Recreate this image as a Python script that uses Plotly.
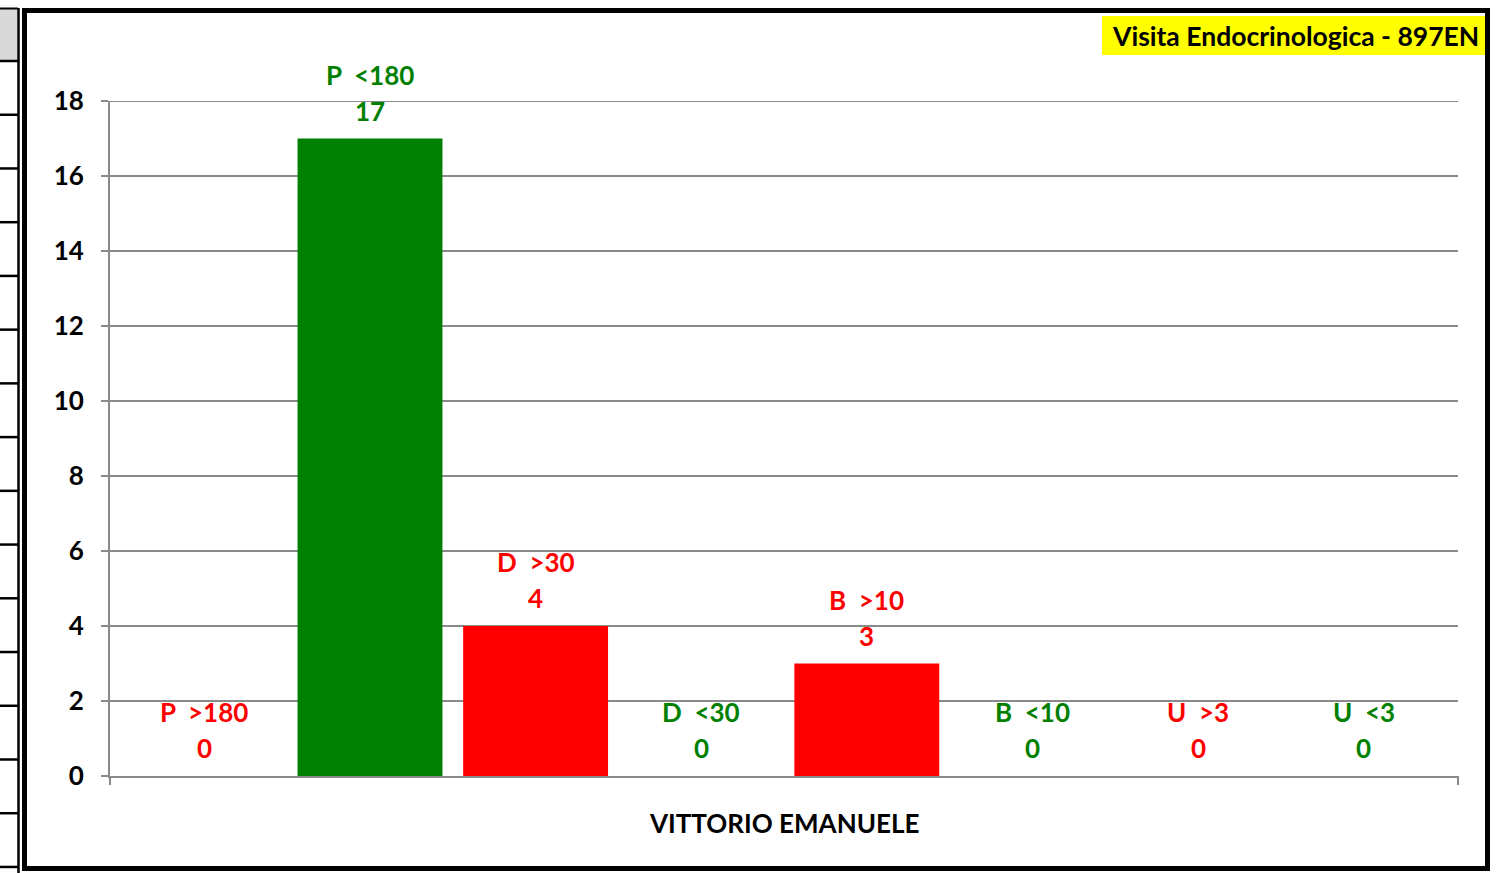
import plotly.graph_objects as go

# ---- data ----
categories = ["P\u00a0\u00a0>180", "P\u00a0\u00a0<180", "D\u00a0\u00a0>30", "D\u00a0\u00a0<30",
              "B\u00a0\u00a0>10", "B\u00a0\u00a0<10", "U\u00a0\u00a0>3", "U\u00a0\u00a0<3"]
values = [0, 17, 4, 0, 3, 0, 0, 0]
bar_colors = ["#FF0000", "#008000", "#FF0000", "#008000", "#FF0000", "#008000", "#FF0000", "#008000"]
group_label = "VITTORIO EMANUELE"
chart_title = "Visita Endocrinologica - 897EN"
y_ticks = [0, 2, 4, 6, 8, 10, 12, 14, 16, 18]

W, H = 1499, 873
ML, MR, MT, MB = 110, 41, 101, 97
PW, PH = W - ML - MR, H - MT - MB
FONT = "Lato"
FS = 26
GRID = "#8a8a8a"


def px(x):
    return (x - ML) / PW


def py(y):
    return (H - MB - y) / PH


fig = go.Figure()
fig.add_trace(go.Bar(
    x=categories, y=values,
    marker=dict(color=bar_colors, line=dict(width=0)),
    hoverinfo="x+y",
))

annotations = []
for cat, val, col in zip(categories, values, bar_colors):
    annotations.append(dict(x=cat, y=val, xref="x", yref="y", text=str(val), showarrow=False,
                            yanchor="middle", yshift=28,
                            font=dict(family=FONT, size=FS, color=col, weight="bold")))
    annotations.append(dict(x=cat, y=val, xref="x", yref="y", text=cat, showarrow=False,
                            yanchor="middle", yshift=64,
                            font=dict(family=FONT, size=FS, color=col, weight="bold")))

# title in yellow box
annotations.append(dict(x=px(1295), y=py(35.5), xref="paper", yref="paper", text=chart_title,
                        showarrow=False, xanchor="center", yanchor="middle",
                        font=dict(family=FONT, size=26.5, color="black", weight="bold")))
# group label
annotations.append(dict(x=0.5, y=py(823), xref="paper", yref="paper", text=group_label,
                        showarrow=False, xanchor="center", yanchor="middle",
                        font=dict(family=FONT, size=FS, color="black", weight="bold")))

shapes = []
# top gridline (at the edge of the range)
shapes.append(dict(type="line", xref="paper", yref="y", x0=0, x1=1, y0=y_ticks[-1], y1=y_ticks[-1],
                   line=dict(color=GRID, width=2), layer="below"))
# yellow title box
shapes.append(dict(type="rect", xref="paper", yref="paper", x0=px(1102), x1=px(1485),
                   y0=py(55), y1=py(16), fillcolor="#FFFF00", line=dict(width=0), layer="below"))
# x-axis end ticks
for xe in (0, 1):
    shapes.append(dict(type="line", xref="paper", yref="paper", x0=xe, x1=xe, y0=0, y1=py(785),
                       line=dict(color=GRID, width=2)))
# spreadsheet artefacts on the left
shapes.append(dict(type="rect", xref="paper", yref="paper", x0=px(0), x1=px(17),
                   y0=py(60), y1=py(9), fillcolor="#D9D9D9", line=dict(width=0)))
shapes.append(dict(type="line", xref="paper", yref="paper", x0=px(0), x1=px(18),
                   y0=py(8.5), y1=py(8.5), line=dict(color="black", width=2)))
for k in range(16):
    yy = 61 + k * 53.73
    shapes.append(dict(type="line", xref="paper", yref="paper", x0=px(0), x1=px(18),
                       y0=py(yy), y1=py(yy), line=dict(color="black", width=2.5)))
shapes.append(dict(type="line", xref="paper", yref="paper", x0=px(18.5), x1=px(18.5),
                   y0=py(873), y1=py(8), line=dict(color="black", width=2.5)))
# outer chart frame
shapes.append(dict(type="rect", xref="paper", yref="paper", x0=px(24.5), x1=px(1487.5),
                   y0=py(868.5), y1=py(10.5), line=dict(color="black", width=5),
                   fillcolor="rgba(0,0,0,0)"))

fig.update_layout(
    width=W, height=H,
    margin=dict(l=ML, r=MR, t=MT, b=MB),
    paper_bgcolor="white", plot_bgcolor="white",
    showlegend=False,
    bargap=0.125,
    font=dict(family=FONT, size=FS, color="black", weight="bold"),
    annotations=annotations,
    shapes=shapes,
    xaxis=dict(range=[-0.57, 7.57], showticklabels=False, ticks="", showgrid=False,
               showline=True, linecolor=GRID, linewidth=2, fixedrange=True),
    yaxis=dict(range=[0, 18], tickvals=y_ticks, ticks="outside", ticklen=7, tickcolor=GRID,
               tickwidth=2, showline=True, linecolor=GRID, linewidth=2,
               showgrid=True, gridcolor=GRID, gridwidth=2, zeroline=False,
               ticklabelstandoff=12,
               tickfont=dict(family=FONT, size=FS, color="black", weight="bold")),
)

fig.write_html("out.html",
               config={"displayModeBar": False},
               post_script="document.body.style.margin='0';document.body.style.overflow='hidden';")
